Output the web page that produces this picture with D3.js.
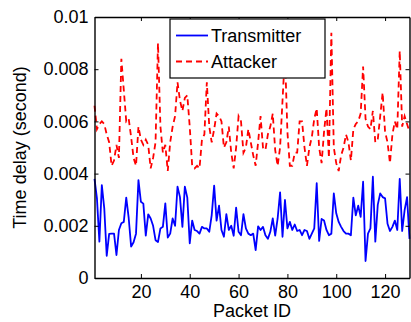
<!DOCTYPE html>
<html>
<head>
<meta charset="utf-8">
<script src="https://cdn.jsdelivr.net/npm/d3@7"></script>
<style>
  body { margin: 0; background: #fff; }
  text { font-family: "Liberation Sans", Arial, sans-serif; }
</style>
</head>
<body>
<svg id="chart" width="411" height="322"></svg>
<script>
// packet ids 1..130
const packetIds = d3.range(1, 131);

// Transmitter delays (s)
const transmitter = [
  0.0038, 0.00305, 0.00139, 0.00356, 0.00267, 0.00085, 0.00169, 0.0017, 0.0017, 0.00088,
  0.00184, 0.0021, 0.00215, 0.00308, 0.0023, 0.0012, 0.00137, 0.0017, 0.00375, 0.00292,
  0.00285, 0.00162, 0.00244, 0.00228, 0.002, 0.00145, 0.00138, 0.0019, 0.00196, 0.00286,
  0.00155, 0.0017, 0.00228, 0.002, 0.0035, 0.0031, 0.00196, 0.0035, 0.00308, 0.00133,
  0.0022, 0.00184, 0.0018, 0.0017, 0.00196, 0.0019, 0.0019, 0.00177, 0.00241, 0.00354,
  0.0022, 0.00277, 0.00184, 0.00158, 0.00245, 0.00184, 0.002, 0.00162, 0.0027, 0.00177,
  0.00164, 0.00245, 0.0019, 0.0017, 0.00164, 0.0017, 0.00107, 0.00198, 0.00184, 0.00196,
  0.00164, 0.0015, 0.00177, 0.00228, 0.00162, 0.00228, 0.00328, 0.00158, 0.00299, 0.0019,
  0.00215, 0.00184, 0.00205, 0.0018, 0.00184, 0.00164, 0.00184, 0.0018, 0.0015, 0.0017,
  0.0019, 0.00363, 0.00142, 0.00226, 0.0022, 0.00184, 0.00164, 0.0017, 0.00324, 0.00248,
  0.00215, 0.00196, 0.0018, 0.0017, 0.0017, 0.00164, 0.00308, 0.0024, 0.00277, 0.00234,
  0.00369, 0.00065, 0.0017, 0.0019, 0.00388, 0.00139, 0.0028, 0.00324, 0.0031, 0.00305,
  0.00208, 0.0018, 0.00196, 0.0022, 0.00184, 0.0038, 0.0018, 0.0026, 0.0031, 0.0015
];

// Attacker delays (s)
const attacker = [
  0.0066, 0.0057, 0.0059, 0.0060, 0.0059, 0.0055, 0.0052, 0.0043, 0.0045, 0.0051,
  0.0046, 0.0084, 0.0072, 0.0060, 0.0061, 0.0054, 0.0046, 0.0043, 0.0058, 0.0053,
  0.0051, 0.0053, 0.0051, 0.0042, 0.0046, 0.0052, 0.0090, 0.0058, 0.0048, 0.0051,
  0.0041, 0.0052, 0.0058, 0.0062, 0.0075, 0.0068, 0.0064, 0.0069, 0.0070, 0.0058,
  0.0043, 0.0042, 0.0043, 0.0042, 0.0053, 0.0055, 0.0075, 0.0058, 0.0052, 0.0057,
  0.0063, 0.0062, 0.0060, 0.0050, 0.0052, 0.0058, 0.0048, 0.0042, 0.0050, 0.0062,
  0.0060, 0.0048, 0.0050, 0.0057, 0.0052, 0.0047, 0.0043, 0.0052, 0.0062, 0.0050,
  0.0049, 0.0055, 0.0058, 0.0063, 0.0049, 0.0043, 0.0050, 0.0068, 0.0086, 0.0056,
  0.0043, 0.0043, 0.0048, 0.0048, 0.0060, 0.0060, 0.0050, 0.0043, 0.0050, 0.0054,
  0.0061, 0.0065, 0.0050, 0.0044, 0.0056, 0.0065, 0.0046, 0.0094, 0.0050, 0.0044,
  0.0041, 0.0047, 0.0050, 0.0055, 0.0052, 0.0045, 0.0057, 0.0059, 0.0060, 0.0063,
  0.0081, 0.0061, 0.0058, 0.0057, 0.0064, 0.0052, 0.0053, 0.0062, 0.0071, 0.0056,
  0.0052, 0.0044, 0.0055, 0.0060, 0.0057, 0.0087, 0.0058, 0.0062, 0.0059, 0.0056
];

const xTicks = [20, 40, 60, 80, 100, 120];
const yTicks = [0, 0.002, 0.004, 0.006, 0.008, 0.01];
const seriesNames = ["Transmitter", "Attacker"];

const width = 411, height = 322;
const margin = { top: 17, right: 1.5, bottom: 44, left: 94.5 };
const innerW = width - margin.left - margin.right;
const innerH = height - margin.top - margin.bottom;

const svg = d3.select("#chart");
const g = svg.append("g").attr("transform", `translate(${margin.left},${margin.top})`);

const x = d3.scaleLinear().domain([1, 130]).range([0, innerW]);
const y = d3.scaleLinear().domain([0, 0.01]).range([innerH, 0]);

const fmt = (d) => (d === 0 ? "0" : String(+d.toFixed(3)));
const fontSize = "18px";

// Lines
const line = d3.line().x((d, i) => x(packetIds[i])).y((d) => y(d));

g.append("path")
  .datum(attacker)
  .attr("fill", "none")
  .attr("stroke", "#ff0000")
  .attr("stroke-width", 1.8)
  .attr("stroke-dasharray", "6,4")
  .attr("d", line);

g.append("path")
  .datum(transmitter)
  .attr("fill", "none")
  .attr("stroke", "#0000ff")
  .attr("stroke-width", 1.8)
  .attr("stroke-linejoin", "round")
  .attr("d", line);

// Axes (ticks point inward, box style)
const styleAxis = (sel) => {
  sel.select(".domain").attr("stroke", "#000").attr("stroke-width", 1.4);
  sel.selectAll(".tick line").attr("stroke", "#000").attr("stroke-width", 1);
  sel.selectAll("text").attr("font-size", fontSize).attr("fill", "#000")
    .style("font-family", "'Liberation Sans', Arial, sans-serif");
};

g.append("g")
  .attr("transform", `translate(0,${innerH})`)
  .call(d3.axisBottom(x).tickValues(xTicks).tickSizeInner(-4).tickSizeOuter(0).tickPadding(7))
  .call(styleAxis);

g.append("g")
  .call(d3.axisTop(x).tickValues(xTicks).tickSizeInner(-4).tickSizeOuter(0).tickFormat(""))
  .call(styleAxis);

g.append("g")
  .call(d3.axisLeft(y).tickValues(yTicks).tickSizeInner(-4).tickSizeOuter(0).tickPadding(6).tickFormat(fmt))
  .call(styleAxis);

g.append("g")
  .attr("transform", `translate(${innerW},0)`)
  .call(d3.axisRight(y).tickValues(yTicks).tickSizeInner(-4).tickSizeOuter(0).tickFormat(""))
  .call(styleAxis);

// Axis titles
svg.append("text")
  .attr("x", margin.left + innerW / 2)
  .attr("y", 317)
  .attr("text-anchor", "middle")
  .attr("font-size", fontSize)
  .text("Packet ID");

svg.append("text")
  .attr("transform", `translate(26,${margin.top + innerH / 2}) rotate(-90)`)
  .attr("text-anchor", "middle")
  .attr("font-size", fontSize)
  .text("Time delay (second)");

// Legend
const legend = svg.append("g").attr("transform", "translate(170,19)");
legend.append("rect")
  .attr("width", 155)
  .attr("height", 59)
  .attr("fill", "#fff")
  .attr("stroke", "#000")
  .attr("stroke-width", 1.2);

const legendColors = ["#0000ff", "#ff0000"];
const legendDash = [null, "6,4"];
seriesNames.forEach((name, i) => {
  const ly = 16.5 + i * 26;
  legend.append("line")
    .attr("x1", 6).attr("x2", 38)
    .attr("y1", ly).attr("y2", ly)
    .attr("stroke", legendColors[i])
    .attr("stroke-width", 1.8)
    .attr("stroke-dasharray", legendDash[i]);
  legend.append("text")
    .attr("x", 41)
    .attr("y", ly)
    .attr("dy", "0.35em")
    .attr("font-size", fontSize)
    .text(name);
});
</script>
</body>
</html>
